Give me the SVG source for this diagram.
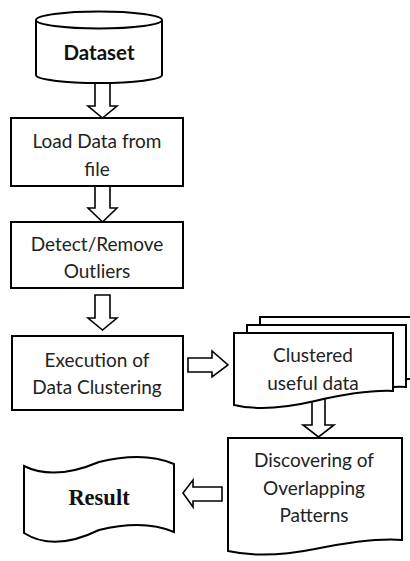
<svg xmlns="http://www.w3.org/2000/svg" width="410" height="561" viewBox="0 0 410 561">
<style>
.shape{fill:#fff;stroke:#000;stroke-width:2}
.arrow{fill:#fff;stroke:#000;stroke-width:1.6;stroke-linejoin:miter}
.t{font-family:Lato,"Open Sans",sans-serif;font-size:19px;fill:#222;text-anchor:middle}
.tb{font-family:Lato,"Open Sans",sans-serif;font-size:20.5px;font-weight:bold;fill:#111;text-anchor:middle}
.ts{font-family:"Liberation Serif","Times New Roman",serif;font-size:22.5px;font-weight:bold;fill:#111;text-anchor:middle}
</style>
<rect width="410" height="561" fill="#fff"/>
<g id="connectors">
<polygon class="arrow" points="95,82 110,82 110,106 117,106 102.5,118 88,106 95,106"/>
<polygon class="arrow" points="95,186 110,186 110,208 117,208 102.5,222 88,208 95,208"/>
<polygon class="arrow" points="95,295 110,295 110,318 117,318 102.5,330 88,318 95,318"/>
<polygon class="arrow" points="188,358 212,358 212,351 228,365 212,377 212,372 188,372"/>
<polygon class="arrow" points="312,398 325,398 325,425 334,425 318.5,437 303,425 312,425"/>
<polygon class="arrow" points="222,487 222,501 193,501 193,507 183,493 193,480 193,487"/>
</g>
<g id="dataset">
<path class="shape" d="M36,20 V75 A63,8 0 0 0 162,75 V20"/>
<ellipse class="shape" cx="99" cy="20" rx="63" ry="8.5"/>
<text class="tb" x="99" y="60">Dataset</text>
</g>
<g id="load">
<rect class="shape" x="11" y="118" width="172" height="68"/>
<text class="t" x="97" y="148">Load Data from</text>
<text class="t" x="97" y="176">file</text>
</g>
<g id="detect">
<rect class="shape" x="11" y="222" width="172" height="66"/>
<text class="t" x="97" y="251">Detect/Remove</text>
<text class="t" x="97" y="278">Outliers</text>
</g>
<g id="execution">
<rect class="shape" x="12" y="336" width="171" height="74"/>
<text class="t" x="97" y="367">Execution of</text>
<text class="t" x="97" y="394">Data Clustering</text>
</g>
<g id="clustered">
<path class="shape" d="M260,317 H420 V379 C397,378 372,382 342,389 C312,396 282,398 260,393 Z"/>
<path class="shape" d="M247,325 H406 V387 C383,386 358,390 328,397 C298,404 268,406 247,401 Z"/>
<path class="shape" d="M234,333 H393 V391 C370,390 345,394 315,401 C285,408 255,410 234,405 Z"/>
<text class="t" x="313" y="362">Clustered</text>
<text class="t" x="313" y="390">useful data</text>
</g>
<g id="discovering">
<path class="shape" d="M228,438 H402 V540 C378,538 350,542 315,549 C285,555 255,557 228,551 Z"/>
<text class="t" x="314" y="467">Discovering of</text>
<text class="t" x="314" y="495">Overlapping</text>
<text class="t" x="314" y="522">Patterns</text>
</g>
<g id="result">
<path class="shape" d="M24,466 Q54,481 99,462 Q144,451 174,464 V532 Q144,519 99,530 Q54,552 24,533 Z"/>
<text class="ts" x="99" y="505">Result</text>
</g>
</svg>
